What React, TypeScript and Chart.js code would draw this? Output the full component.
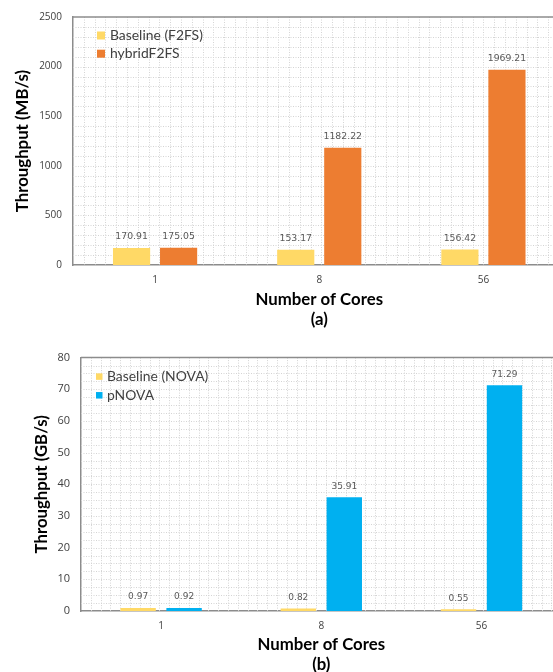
import { useEffect, useRef } from "react";
import { Chart, registerables } from "chart.js";

Chart.register(...registerables);

// Number of cores on the x axis (shared by both panels)
const coreCounts = ["1", "8", "56"];

// Panel (a): F2FS throughput in MB/s
const f2fsBaseline = [170.91, 153.17, 156.42];
const hybridF2fs = [175.05, 1182.22, 1969.21];
const mbAxisMax = 2500;
const mbAxisStep = 500;

// Panel (b): NOVA throughput in GB/s
const novaBaseline = [0.97, 0.82, 0.55];
const pNova = [0.92, 35.91, 71.29];
const gbAxisMax = 80;
const gbAxisStep = 10;

const YELLOW = "#FFD966";
const ORANGE = "#ED7D31";
const BLUE = "#00B0F0";
const AXIS_GREY = "#8c8c8c";
const TEXT_DARK = "#404040";
const LABEL_GREY = "#595959";

type PanelSpec = {
  series: { label: string; data: number[]; color: string }[];
  yTitle: string;
  xTitle: string[];
  yMax: number;
  yStep: number;
  gridStepValue: number;
  gridGapX: number;
  canvasW: number;
  canvasH: number;
  padTop: number;
  padRight: number;
  yAxisWidth: number;
  xAxisHeight: number;
  yTitlePad: number;
  yTickSize: number;
  valueFontSize: number;
  catPct: number;
  barPct: number;
  legendSquare: number;
  legendRows: number[];
  legendSquareX: number;
  legendTextX: number;
};

function dottedGrid(spec: PanelSpec) {
  return {
    id: "dottedGrid",
    beforeDatasetsDraw(chart: any) {
      const { ctx, chartArea: a, scales } = chart;
      const y = scales.y;
      ctx.save();
      ctx.strokeStyle = "#d4d4d4";
      ctx.lineWidth = 1;
      ctx.setLineDash([1, 1.5]);
      const n = Math.round(spec.yMax / spec.gridStepValue);
      for (let i = 1; i < n; i++) {
        const py = Math.round(y.getPixelForValue(i * spec.gridStepValue)) + 0.5;
        ctx.beginPath();
        ctx.moveTo(a.left, py);
        ctx.lineTo(a.right, py);
        ctx.stroke();
      }
      for (let px = a.left + spec.gridGapX; px < a.right; px += spec.gridGapX) {
        const x = Math.round(px) + 0.5;
        ctx.beginPath();
        ctx.moveTo(x, a.top);
        ctx.lineTo(x, a.bottom);
        ctx.stroke();
      }
      // frame line along the top of the plot
      ctx.setLineDash([]);
      ctx.strokeStyle = AXIS_GREY;
      ctx.lineWidth = 1.5;
      ctx.beginPath();
      ctx.moveTo(a.left, a.top);
      ctx.lineTo(a.right, a.top);
      ctx.stroke();
      ctx.restore();
    },
  };
}

function valueLabels(spec: PanelSpec) {
  return {
    id: "valueLabels",
    afterDatasetsDraw(chart: any) {
      const { ctx } = chart;
      ctx.save();
      ctx.font = `${spec.valueFontSize}px "DejaVu Sans"`;
      ctx.fillStyle = LABEL_GREY;
      ctx.textAlign = "center";
      ctx.textBaseline = "middle";
      chart.data.datasets.forEach((ds: any, di: number) => {
        const meta = chart.getDatasetMeta(di);
        meta.data.forEach((bar: any, i: number) => {
          const v = ds.data[i] as number;
          ctx.fillText(v.toFixed(2), bar.x, bar.y - 11);
        });
      });
      ctx.restore();
    },
  };
}

function insideLegend(spec: PanelSpec) {
  return {
    id: "insideLegend",
    afterDatasetsDraw(chart: any) {
      const { ctx, chartArea: a } = chart;
      ctx.save();
      ctx.font = `13.9px Lato`;
      ctx.textBaseline = "middle";
      ctx.textAlign = "left";
      chart.data.datasets.forEach((ds: any, di: number) => {
        const cy = a.top + spec.legendRows[di];
        const s = spec.legendSquare;
        ctx.fillStyle = ds.backgroundColor;
        ctx.fillRect(spec.legendSquareX, cy - s / 2, s, s);
        ctx.fillStyle = TEXT_DARK;
        ctx.fillText(ds.label, spec.legendTextX, cy);
      });
      ctx.restore();
    },
  };
}

function Panel({ spec, top }: { spec: PanelSpec; top: number }) {
  const ref = useRef<HTMLCanvasElement | null>(null);

  useEffect(() => {
    if (!ref.current) return;
    const chart = new Chart(ref.current, {
      type: "bar",
      data: {
        labels: coreCounts,
        datasets: spec.series.map((s) => ({
          label: s.label,
          data: s.data,
          backgroundColor: s.color,
          borderWidth: 0,
          categoryPercentage: spec.catPct,
          barPercentage: spec.barPct,
        })),
      },
      options: {
        responsive: false,
        animation: false,
        layout: { padding: { top: spec.padTop, right: spec.padRight, left: 0, bottom: 0 } },
        plugins: { legend: { display: false }, tooltip: { enabled: false } },
        scales: {
          x: {
            grid: { display: false, drawTicks: false },
            border: { color: AXIS_GREY, width: 1.5 },
            ticks: {
              color: TEXT_DARK,
              padding: 9,
              font: { family: "Open Sans", size: 10 },
            },
            title: {
              display: true,
              text: spec.xTitle,
              color: "#000000",
              font: { family: "Lato", weight: "bold", size: 16.8, lineHeight: 1.18 },
              padding: { top: 0, bottom: 10.25 },
            },
            afterFit: (s: any) => {
              s.height = spec.xAxisHeight;
            },
          },
          y: {
            min: 0,
            max: spec.yMax,
            grid: { display: false, drawTicks: false },
            border: { color: AXIS_GREY, width: 1.5 },
            ticks: {
              stepSize: spec.yStep,
              color: TEXT_DARK,
              padding: 11,
              font: { family: "Open Sans", size: spec.yTickSize },
              callback: (v: any) => String(v),
            },
            title: {
              display: true,
              text: spec.yTitle,
              color: "#000000",
              font: { family: "Lato", weight: "bold", size: 16.8, lineHeight: 1.18 },
              padding: { top: spec.yTitlePad, bottom: 0 },
            },
            afterFit: (s: any) => {
              s.width = spec.yAxisWidth;
            },
          },
        },
      },
      plugins: [dottedGrid(spec), valueLabels(spec), insideLegend(spec)],
    } as any);
    return () => chart.destroy();
  }, [spec]);

  return (
    <canvas
      ref={ref}
      width={spec.canvasW}
      height={spec.canvasH}
      style={{
        position: "absolute",
        left: 0,
        top,
        width: spec.canvasW,
        height: spec.canvasH,
      }}
    />
  );
}

const panelA: PanelSpec = {
  series: [
    { label: "Baseline (F2FS)", data: f2fsBaseline, color: YELLOW },
    { label: "hybridF2FS", data: hybridF2fs, color: ORANGE },
  ],
  yTitle: "Throughput (MB/s)",
  xTitle: ["Number of Cores", "(a)"],
  yMax: mbAxisMax,
  yStep: mbAxisStep,
  gridStepValue: 100,
  gridGapX: 10.8,
  canvasW: 575,
  canvasH: 340,
  padTop: 15,
  padRight: 9.5,
  yAxisWidth: 73,
  xAxisHeight: 75,
  yTitlePad: 13,
  yTickSize: 10,
  valueFontSize: 9.3,
  catPct: 0.573,
  barPct: 0.79,
  legendSquare: 8,
  legendRows: [18.5, 36.7],
  legendSquareX: 97,
  legendTextX: 110,
};

const panelB: PanelSpec = {
  series: [
    { label: "Baseline (NOVA)", data: novaBaseline, color: YELLOW },
    { label: "pNOVA", data: pNova, color: BLUE },
  ],
  yTitle: "Throughput (GB/s)",
  xTitle: ["Number of Cores", "(b)"],
  yMax: gbAxisMax,
  yStep: gbAxisStep,
  gridStepValue: 2.5,
  gridGapX: 9.8,
  canvasW: 575,
  canvasH: 345,
  padTop: 14,
  padRight: 13.4,
  yAxisWidth: 81,
  xAxisHeight: 74,
  yTitlePad: 31.5,
  yTickSize: 11,
  valueFontSize: 9,
  catPct: 0.574,
  barPct: 0.77,
  legendSquare: 6.5,
  legendRows: [19, 37.7],
  legendSquareX: 96,
  legendTextX: 107,
};

export default function App() {
  return (
    <div
      style={{
        position: "absolute",
        left: 0,
        top: 0,
        width: 553,
        height: 672,
        overflow: "hidden",
        background: "#ffffff",
      }}
    >
      <Panel spec={panelA} top={0} />
      <Panel spec={panelB} top={340} />
    </div>
  );
}
